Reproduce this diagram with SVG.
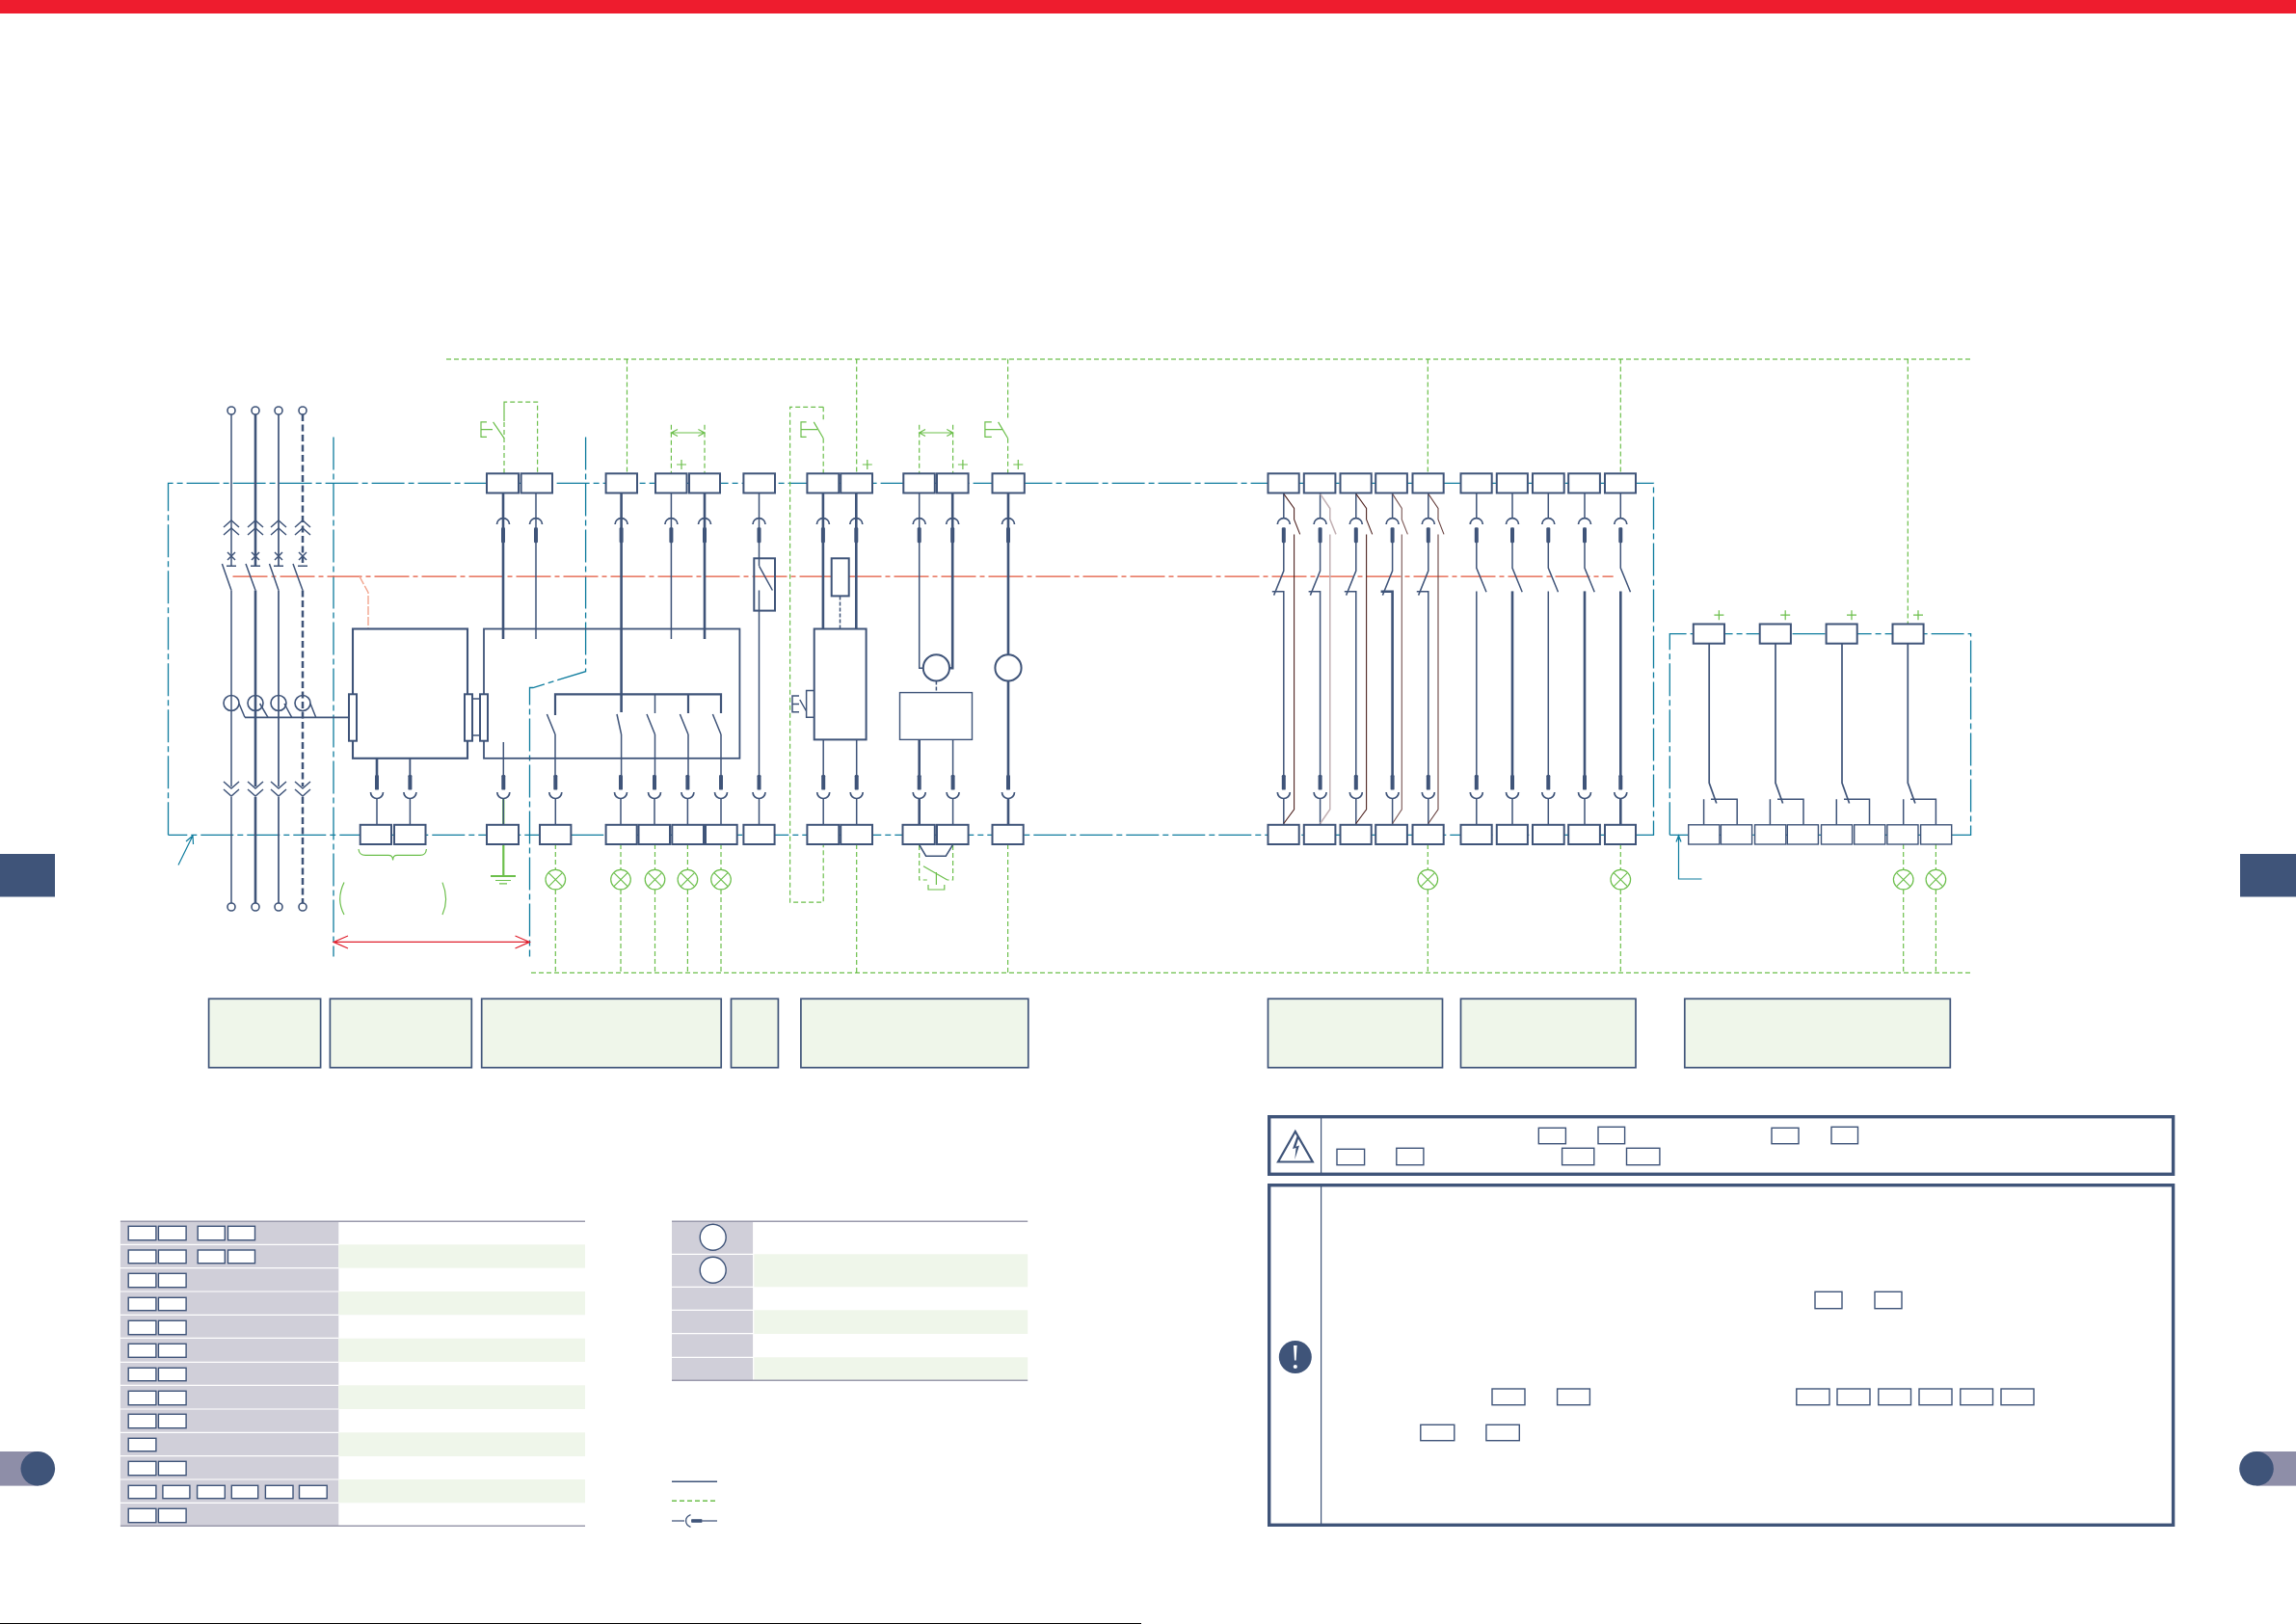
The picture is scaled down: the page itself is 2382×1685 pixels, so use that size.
<svg xmlns="http://www.w3.org/2000/svg" width="2382" height="1685" viewBox="0 0 2382 1685">
<style>
.t{fill:#fff;stroke:#3f5479;stroke-width:2}
.s{fill:#fff;stroke:#3f5479;stroke-width:1.4}
.w{fill:none;stroke:#3f5479;stroke-width:1.5}
.W{fill:none;stroke:#3f5479;stroke-width:2.6}
.d{fill:none;stroke:#3f5479;stroke-width:2.5;stroke-dasharray:7 3.5}
.g{fill:none;stroke:#6cbf4b;stroke-width:1.2;stroke-dasharray:5 3}
.gs{fill:none;stroke:#6cbf4b;stroke-width:1.2}
.e{fill:none;stroke:#0e7c9e;stroke-width:1.3;stroke-dasharray:34 4 6 4}
.es{fill:none;stroke:#0e7c9e;stroke-width:1.2}
.r{fill:none;stroke:#e4553a;stroke-width:1.3;stroke-dasharray:36 4 5 4}
.b{fill:none;stroke:#4f2320;stroke-width:1.1}
.rb{fill:none;stroke:#e0202e;stroke-width:1.2}
.l{fill:#fff;stroke:#6cbf4b;stroke-width:1.2}
.cap{fill:#eff6ea;stroke:#3f5479;stroke-width:1.7}
.gray{fill:#d0cfd9}
.gr{fill:#eff6ea}
.navy{fill:#3f5479}
.pill{fill:#8e8ea8}
.rule{stroke:#9a9aac;stroke-width:1.5;fill:none}
.frame{fill:none;stroke:#3f5479;stroke-width:3.4}
</style>
<defs>
<g id="cu"><path d="M-6.5 6.5A6.5 6.5 0 0 1 6.5 6.5" fill="none" stroke="#3f5479" stroke-width="1.7"/><rect x="-2" y="9.7" width="4" height="16" rx="1.2" fill="#3f5479"/></g>
<g id="cl"><path d="M-6.5 18A6.5 6.5 0 0 0 6.5 18" fill="none" stroke="#3f5479" stroke-width="1.7"/><rect x="-2" y="0" width="4" height="15.6" rx="1.2" fill="#3f5479"/></g>
<g id="lamp"><circle r="10.3" class="l"/><path d="M-7.3 -7.3L7.3 7.3M7.3 -7.3L-7.3 7.3" class="gs"/></g>
<path id="plus" d="M-5 0H5M0 -5V5" class="gs"/>
<g id="pole-top"><path d="M-8 547L0 540L8 547M-8 555L0 548L8 555M-4 573L4 581M4 573L-4 581M-5 587.3H5" fill="none" stroke="#3f5479" stroke-width="1.5"/></g>
<g id="pole-bot"><path d="M-8 811L0 818L8 811M-8 819L0 826L8 819" fill="none" stroke="#3f5479" stroke-width="1.5"/></g>
</defs>

<rect id="top-band" x="0" y="0" width="2382" height="14" fill="#ee1c2e"/>

<g id="connectors">
<path class="e" d="M174.5 866.3V501.4H1715.5V866.3H174.5"/>
<path class="e" d="M1732.3 866.3V657.6H2044.6V866.3H1732.3"/>
<path class="e" d="M346 453.4V992.6"/>
<path class="e" d="M607.6 453.4V696.7L553 713.5H549.5V992.6"/>
<path class="r" d="M241.5 598.2H1673.7"/>
<path d="M373 598.2L382 614.6V651.7" fill="none" stroke="#f2a68f" stroke-width="1.4" stroke-dasharray="9 2"/>
<path class="es" d="M185 897.5L200 867M193 873L200 867L200.5 876"/>
<path class="es" d="M1765.5 912H1741.5V867M1739 873.5L1741.5 867L1744 873.5"/>

<path class="g" d="M463 372.6H2045"/>
<path class="g" d="M551 1009.4H2045"/>
<path class="g" d="M650.5 372.6V491M888.7 372.6V491M1045.6 372.6V435.8M1045.6 454.7V491M1481.3 372.6V491M1681.3 372.6V491M1979.3 372.6V647"/>
<path class="g" d="M696.4 440.8V491M731 440.8V491M953.7 440.8V491M988.6 440.8V491"/>
<path class="g" d="M523 491V417.2H557.6V491M523 417.2V437"/>
<path class="g" d="M854.2 454.7V491M854.2 422.3H819.6V936.2H854.2V877M854.2 422.3V437"/>
<path class="g" d="M576.3 876V902M576.3 923V1009M644 876V902M644 923V1009M679.5 876V902M679.5 923V1009M713.4 876V902M713.4 923V1009M748 876V902M748 923V1009"/>
<path class="g" d="M888.7 876V1009M1045.6 876V1009M1481.3 876V902M1481.3 923V1009M1681.3 876V902M1681.3 923V1009M1974.7 876V902M1974.7 923V1009M2008.4 876V902M2008.4 923V1009"/>
<path class="g" d="M953.7 877V913H961.8M988.6 877V913H982.8"/>
<path class="gs" d="M958 898.7L982.8 913M971.4 905V918M963 918V923H979.8V918"/>
<path class="gs" d="M522.3 829V909" style="stroke-width:2.2"/>
<path class="gs" d="M509 909H535" style="stroke-width:2"/>
<path class="gs" d="M514 913.5H530M518 916.8H526"/>
<path class="gs" d="M372 881C372.5 886 375 887.4 379 887.4H403C406 887.4 407.6 889 407.6 892.4C407.6 889 409 887.4 412 887.4H436C440 887.4 442 886 442.4 881" />
<path class="gs" d="M357 915.6C351 928 351 938 357 949M459 915.6C464 928 464 938 459 949"/>
<path class="rb" d="M346 977.4H549.5M361 971L346 977.4L361 984M534.5 971L549.5 977.4L534.5 984"/>
<path class="gs" d="M696.4 449H731M703 445.5L696.4 449L703 452.5M724.4 445.5L731 449L724.4 452.5M953.7 449H988.6M960 445.5L953.7 449L960 452.5M982.3 445.5L988.6 449L982.3 452.5"/>

<path class="gs" d="M505 437.9H499V453.4H505M499 445.6H505M505 445.6H511M511.6 437.9L523 454.7"/>
<path class="gs" d="M836.6 437.9H831V453.4H836.6M831 445.6H836.6M836.6 445.6H848M844.3 437.9L854.2 454.7"/>
<path class="gs" d="M1028.8 437.9H1021.9V453.4H1028.8M1021.9 445.6H1028.8M1028.8 445.6H1040M1035.6 437.9L1045.6 454.7"/>
<path class="w" d="M829 722H822V738.8H829M822 730.4H829M829.8 726L836.6 738M844 716.5H836.6V744.3H844"/>

<path class="w" d="M240 430V587M240 612.5V816M240 827V937"/><path class="W" d="M265 430V587M265 612.5V816M265 827V937"/>
<path style="fill:none;stroke:#3f5479;stroke-width:1.7" d="M289 430V587M289 612.5V816M289 827V937"/><path class="d" d="M314 430V587M314 612.5V816M314 827V937"/>
<path class="w" d="M230.4 585L240 612.5M255 585L265 612.5M279.5 585L289 612.5M304 585L314 612.5"/>
<path class="w" d="M248 730L254 744.3M269.6 730L278 744.3M295 730L302.7 744.3M322 730L327.7 744.3"/>
<path style="fill:none;stroke:#3f5479;stroke-width:1.8" d="M254 744.3H362"/>

<path class="W" d="M522 511.5V663M644.6 511.5V739M731 511.5V663"/>
<path class="w" d="M556 511.5V663M696.4 511.5V663M787.5 511.5V587.3M787.5 612.5V804"/>
<path class="W" d="M576 742V720.3H748V740M714 720.3V740" style="stroke-width:2.2"/>
<path class="w" d="M679.5 720.3V740"/>
<path class="w" d="M567.4 741L576 762M640 741L644.6 762M671 741L679.5 762M705.4 741L714 762M739.4 741L748 762M787.6 587.3L801.4 612.5"/>
<path class="w" d="M576 762V804M644.6 762V804M679.5 762V804M714 762V804M748 762V804"/>
<path class="w" d="M522.3 770V804"/>
<path class="w" d="M391 787V804M425.4 787V804M391 829V856M425.4 829V856M522.3 829V856M576.3 829V856M644 829V856M679 829V856M713.4 829V856M748 829V856M787.5 829V856"/>
<path class="W" d="M853.9 511.5V652.5M888.3 511.5V652.5M953.7 767.4V804M1046 511.5V679M1046 706.5V804M953.7 829V856M1046 829V856" />
<path class="w" d="M854.2 767.4V804M888.7 767.4V804M854.2 829V856M888.7 829V856M988.6 767.4V804M988.6 829V856"/>
<path class="w" d="M953.7 511.5V693.3H958"/><path class="W" d="M988.2 511.5V693.3H985"/>
<path class="w" d="M871.5 618.4V652.5M971.4 706.4V718.6" stroke-dasharray="4 2"/>
<path class="w" d="M954 877L960.6 888.2H981.3L988.2 877"/>

<path class="w" d="M1331.8 511.5V537M1331.8 563V592.3L1321.6 617.6M1319.8 613.8H1331.8V804M1331.8 829V856"/>
<path class="w" d="M1369.6 511.5V537M1369.6 563V592.3L1359.4 617.6M1357.6 613.8H1369.6V804M1369.6 829V856"/>
<path class="w" d="M1406.8 511.5V537M1406.8 563V592.3L1396.6 617.6M1394.8 613.8H1406.8V804M1406.8 829V856"/>
<path class="w" d="M1444.6 511.5V537M1444.6 563V592.3L1434.4 617.6M1444.6 829V856"/><path class="W" d="M1432.6 613.8H1444.6V804"/>
<path class="w" d="M1481.8 511.5V537M1481.8 563V592.3L1471.6 617.6M1469.8 613.8H1481.8V804M1481.8 829V856"/>
<path class="b" d="M1331.8 512.4L1342.6 527.5V538.9L1348.7 554.4M1342.6 554.4V839.8L1331.8 854.5"/>
<path class="b" style="stroke:#c3b1b4;stroke-width:1.5" d="M1369.6 512.4L1379.8 527.5V538.9L1386 554.4M1379.8 554.4V839.8L1369.6 854.5"/>
<path class="b" d="M1406.8 512.4L1417.6 527.5V538.9L1423.7 554.4M1417.6 554.4V839.8L1406.8 854.5"/>
<path class="b" style="stroke:#7a5553" d="M1444.6 512.4L1454.3 527.5V538.9L1460.4 554.4M1454.3 554.4V839.8L1444.6 854.5"/>
<path class="b" style="stroke:#6a4442" d="M1481.8 512.4L1492 527.5V538.9L1498 554.4M1492 554.4V839.8L1481.8 854.5"/>
<path class="w" d="M1531.8 511.5V537M1531.8 563V589.4L1542 614.2M1531.8 613.4V804M1531.8 829V856"/>
<path class="w" d="M1569 511.5V537M1569 563V589.4L1579.2 614.2M1569 829V856"/><path class="W" d="M1569 613.4V804"/>
<path class="w" d="M1606.3 511.5V537M1606.3 563V589.4L1616.5 614.2M1606.3 613.4V804M1606.3 829V856"/>
<path class="w" d="M1644 511.5V537M1644 563V589.4L1654.2 614.2M1644 829V856"/><path class="W" d="M1644 613.4V804"/>
<path class="w" d="M1681.3 511.5V537M1681.3 563V589.4L1691.5 614.2"/><path class="W" d="M1681.3 613.4V804M1681.3 829V856"/>

<path style="fill:none;stroke:#3f5479;stroke-width:1.7" d="M1773.2 667.7V812.4L1780.8 833.5M1842 667.7V812.4L1849.6 833.5M1911 667.7V812.4L1918.6 833.5M1979.3 667.7V812.4L1986.9 833.5"/>
<path class="w" d="M1767.6 829.3V856M1775 829.3H1802.2V856M1836.4 829.3V856M1844 829.3H1871V856M1905.3 829.3V856M1913 829.3H1939.5V856M1974.7 829.3V856M1982 829.3H2008.4V856"/>
</g>

<g id="couplers">
<use href="#cu" x="522" y="537.6"/><use href="#cu" x="556" y="537.6"/><use href="#cu" x="644.6" y="537.6"/><use href="#cu" x="696.4" y="537.6"/><use href="#cu" x="731" y="537.6"/><use href="#cu" x="787.5" y="537.6"/><use href="#cu" x="853.9" y="537.6"/><use href="#cu" x="888.3" y="537.6"/><use href="#cu" x="953.7" y="537.6"/><use href="#cu" x="988.2" y="537.6"/><use href="#cu" x="1046" y="537.6"/>
<use href="#cu" x="1331.8" y="537.6"/><use href="#cu" x="1369.6" y="537.6"/><use href="#cu" x="1406.8" y="537.6"/><use href="#cu" x="1444.6" y="537.6"/><use href="#cu" x="1481.8" y="537.6"/><use href="#cu" x="1531.8" y="537.6"/><use href="#cu" x="1569" y="537.6"/><use href="#cu" x="1606.3" y="537.6"/><use href="#cu" x="1644" y="537.6"/><use href="#cu" x="1681.3" y="537.6"/>
<use href="#cl" x="391" y="804"/><use href="#cl" x="425.4" y="804"/><use href="#cl" x="522.3" y="804"/><use href="#cl" x="576.3" y="804"/><use href="#cl" x="644" y="804"/><use href="#cl" x="679" y="804"/><use href="#cl" x="713.4" y="804"/><use href="#cl" x="748" y="804"/><use href="#cl" x="787.5" y="804"/><use href="#cl" x="854.2" y="804"/><use href="#cl" x="888.7" y="804"/><use href="#cl" x="953.7" y="804"/><use href="#cl" x="988.6" y="804"/><use href="#cl" x="1046" y="804"/>
<use href="#cl" x="1331.8" y="804"/><use href="#cl" x="1369.6" y="804"/><use href="#cl" x="1406.8" y="804"/><use href="#cl" x="1444.6" y="804"/><use href="#cl" x="1481.8" y="804"/><use href="#cl" x="1531.8" y="804"/><use href="#cl" x="1569" y="804"/><use href="#cl" x="1606.3" y="804"/><use href="#cl" x="1644" y="804"/><use href="#cl" x="1681.3" y="804"/>
</g>

<g id="main-poles">
<use href="#pole-top" x="240"/><use href="#pole-top" x="265"/><use href="#pole-top" x="289"/><use href="#pole-top" x="314"/>
<use href="#pole-bot" x="240"/><use href="#pole-bot" x="265"/><use href="#pole-bot" x="289"/><use href="#pole-bot" x="314"/>
<g fill="#fff" stroke="#3f5479" stroke-width="1.6"><circle cx="240" cy="426" r="4"/><circle cx="265" cy="426" r="4"/><circle cx="289" cy="426" r="4"/><circle cx="314" cy="426" r="4"/><circle cx="240" cy="941" r="4"/><circle cx="265" cy="941" r="4"/><circle cx="289" cy="941" r="4"/><circle cx="314" cy="941" r="4"/></g>
<g fill="none" stroke="#3f5479" stroke-width="1.6"><circle cx="240" cy="729.5" r="8"/><circle cx="265" cy="729.5" r="8"/><circle cx="289" cy="729.5" r="8"/><circle cx="314" cy="729.5" r="8"/></g>
</g>

<g id="breaker-unit"><rect x="366" y="652.5" width="119" height="134.3" fill="none" stroke="#3f5479" stroke-width="2.1"/></g>
<g id="breaker-wires"><path class="W" d="M391 786.8V804"/><path class="w" d="M425.4 786.8V804"/></g>
<g id="control-unit"><rect x="502" y="652.5" width="265.4" height="134.3" fill="none" stroke="#3f5479" stroke-width="1.8"/></g>
<g id="interlock">
<path class="w" d="M490 725H498M490 763H498"/>
<rect class="t" x="362" y="720.3" width="8" height="48.4"/>
<rect class="t" x="482" y="720.3" width="8" height="48.4"/>
<rect class="t" x="498" y="720.3" width="8" height="48.4"/>
</g>
<g id="fuse-a"><rect class="t" x="782.3" y="579.3" width="21.7" height="54.3" style="fill:none"/></g>
<g id="fuse-b"><rect class="t" x="862.7" y="579.3" width="18" height="39.1"/></g>
<g id="coil-box"><rect x="844.7" y="652.5" width="53.9" height="114.9" fill="#fff" stroke="#3f5479" stroke-width="2"/></g>
<g id="motor-a"><circle class="t" cx="971.4" cy="692.9" r="13.6"/></g>
<g id="motor-box"><rect class="s" x="933.5" y="718.6" width="75" height="48.8"/></g>
<g id="motor-b"><circle class="t" cx="1046" cy="692.9" r="13.6"/></g>

<g id="terminals-top">
<g id="tt1"><rect class="t" x="505" y="491.3" width="33" height="20.2"/></g>
<g id="tt2"><rect class="t" x="540.6" y="491.3" width="32.4" height="20.2"/></g>
<g id="tt3"><rect class="t" x="628.6" y="491.3" width="32.4" height="20.2"/></g>
<g id="tt4"><rect class="t" x="680" y="491.3" width="32.5" height="20.2"/></g>
<g id="tt5"><rect class="t" x="715" y="491.3" width="32" height="20.2"/></g>
<g id="tt6"><rect class="t" x="771.4" y="491.3" width="32.6" height="20.2"/></g>
<g id="tt7"><rect class="t" x="837.4" y="491.3" width="32.9" height="20.2"/></g>
<g id="tt8"><rect class="t" x="872.2" y="491.3" width="32.8" height="20.2"/></g>
<g id="tt9"><rect class="t" x="937.3" y="491.3" width="32.5" height="20.2"/></g>
<g id="tt10"><rect class="t" x="972" y="491.3" width="32.6" height="20.2"/></g>
<g id="tt11"><rect class="t" x="1029.5" y="491.3" width="33.3" height="20.2"/></g>
<g id="tt12"><rect class="t" x="1315.5" y="491.3" width="32.2" height="20.2"/></g>
<g id="tt13"><rect class="t" x="1352.8" y="491.3" width="32.6" height="20.2"/></g>
<g id="tt14"><rect class="t" x="1390.5" y="491.3" width="32.2" height="20.2"/></g>
<g id="tt15"><rect class="t" x="1427.2" y="491.3" width="32.7" height="20.2"/></g>
<g id="tt16"><rect class="t" x="1465.5" y="491.3" width="32.2" height="20.2"/></g>
<g id="tt17"><rect class="t" x="1515.5" y="491.3" width="32.2" height="20.2"/></g>
<g id="tt18"><rect class="t" x="1552.8" y="491.3" width="32.1" height="20.2"/></g>
<g id="tt19"><rect class="t" x="1590" y="491.3" width="32.7" height="20.2"/></g>
<g id="tt20"><rect class="t" x="1627.2" y="491.3" width="32.7" height="20.2"/></g>
<g id="tt21"><rect class="t" x="1665" y="491.3" width="32" height="20.2"/></g>
<g id="tt22"><rect class="t" x="1756.8" y="647.5" width="32.2" height="20.2"/></g>
<g id="tt23"><rect class="t" x="1825.7" y="647.5" width="32.2" height="20.2"/></g>
<g id="tt24"><rect class="t" x="1894.6" y="647.5" width="32.1" height="20.2"/></g>
<g id="tt25"><rect class="t" x="1963.5" y="647.5" width="32.1" height="20.2"/></g>
</g>

<g id="terminals-bottom">
<g id="tb1"><rect class="t" x="373.7" y="855.8" width="32.3" height="20.2"/></g>
<g id="tb2"><rect class="t" x="409" y="855.8" width="32.5" height="20.2"/></g>
<g id="tb3"><rect class="t" x="505" y="855.8" width="33" height="20.2"/></g>
<g id="tb4"><rect class="t" x="560" y="855.8" width="32.4" height="20.2"/></g>
<g id="tb5"><rect class="t" x="628.6" y="855.8" width="32.1" height="20.2"/></g>
<g id="tb6"><rect class="t" x="662.5" y="855.8" width="32.5" height="20.2"/></g>
<g id="tb7"><rect class="t" x="697.3" y="855.8" width="32.7" height="20.2"/></g>
<g id="tb8"><rect class="t" x="732" y="855.8" width="32.7" height="20.2"/></g>
<g id="tb9"><rect class="t" x="771.4" y="855.8" width="32.2" height="20.2"/></g>
<g id="tb10"><rect class="t" x="837.4" y="855.8" width="32.9" height="20.2"/></g>
<g id="tb11"><rect class="t" x="872.2" y="855.8" width="32.8" height="20.2"/></g>
<g id="tb12"><rect class="t" x="936.5" y="855.8" width="33.3" height="20.2"/></g>
<g id="tb13"><rect class="t" x="972" y="855.8" width="32.6" height="20.2"/></g>
<g id="tb14"><rect class="t" x="1029.5" y="855.8" width="32.2" height="20.2"/></g>
<g id="tb15"><rect class="t" x="1315.5" y="855.8" width="32.2" height="20.2"/></g>
<g id="tb16"><rect class="t" x="1352.8" y="855.8" width="32.6" height="20.2"/></g>
<g id="tb17"><rect class="t" x="1390.5" y="855.8" width="32.2" height="20.2"/></g>
<g id="tb18"><rect class="t" x="1427.2" y="855.8" width="32.7" height="20.2"/></g>
<g id="tb19"><rect class="t" x="1465.5" y="855.8" width="32.2" height="20.2"/></g>
<g id="tb20"><rect class="t" x="1515.5" y="855.8" width="32.2" height="20.2"/></g>
<g id="tb21"><rect class="t" x="1552.8" y="855.8" width="32.1" height="20.2"/></g>
<g id="tb22"><rect class="t" x="1590" y="855.8" width="32.7" height="20.2"/></g>
<g id="tb23"><rect class="t" x="1627.2" y="855.8" width="32.7" height="20.2"/></g>
<g id="tb24"><rect class="t" x="1665" y="855.8" width="32" height="20.2"/></g>
<g id="tb25"><rect class="s" x="1751.7" y="855.8" width="32.2" height="20.2"/></g>
<g id="tb26"><rect class="s" x="1785.4" y="855.8" width="32.2" height="20.2"/></g>
<g id="tb27"><rect class="s" x="1820.6" y="855.8" width="32.2" height="20.2"/></g>
<g id="tb28"><rect class="s" x="1854.3" y="855.8" width="32.1" height="20.2"/></g>
<g id="tb29"><rect class="s" x="1889.5" y="855.8" width="32.1" height="20.2"/></g>
<g id="tb30"><rect class="s" x="1923.7" y="855.8" width="32.1" height="20.2"/></g>
<g id="tb31"><rect class="s" x="1957.9" y="855.8" width="32.1" height="20.2"/></g>
<g id="tb32"><rect class="s" x="1992.6" y="855.8" width="32.1" height="20.2"/></g>
</g>

<g id="lamps">
<use href="#lamp" x="576.3" y="912.6"/><use href="#lamp" x="644" y="912.6"/><use href="#lamp" x="679.5" y="912.6"/><use href="#lamp" x="713.4" y="912.6"/><use href="#lamp" x="748" y="912.6"/><use href="#lamp" x="1481.3" y="912.6"/><use href="#lamp" x="1681.3" y="912.6"/><use href="#lamp" x="1974.7" y="912.6"/><use href="#lamp" x="2008.4" y="912.6"/>
</g>
<g id="plus-signs">
<use href="#plus" x="707" y="482"/><use href="#plus" x="899.8" y="482"/><use href="#plus" x="998.9" y="482"/><use href="#plus" x="1056.3" y="482"/><use href="#plus" x="1783.4" y="638.2"/><use href="#plus" x="1852.2" y="638.2"/><use href="#plus" x="1921" y="638.2"/><use href="#plus" x="1990" y="638.2"/>
</g>

<g id="captions">
<rect class="cap" x="216.6" y="1036.3" width="116" height="71.4"/>
<rect class="cap" x="342.4" y="1036.3" width="146.9" height="71.4"/>
<rect class="cap" x="499.7" y="1036.3" width="248.5" height="71.4"/>
<rect class="cap" x="758.5" y="1036.3" width="48.9" height="71.4"/>
<rect class="cap" x="830.9" y="1036.3" width="235.9" height="71.4"/>
<rect class="cap" x="1315.5" y="1036.3" width="181" height="71.4"/>
<rect class="cap" x="1515.5" y="1036.3" width="181.5" height="71.4"/>
<rect class="cap" x="1747.8" y="1036.3" width="275.5" height="71.4"/>
</g>

<g id="table-left">
<rect class="gray" x="124.9" y="1267.3" width="226.4" height="316"/>
<rect class="gr" x="351.3" y="1291.3" width="255.7" height="24.3"/>
<rect class="gr" x="351.3" y="1340" width="255.7" height="24.3"/>
<rect class="gr" x="351.3" y="1388.7" width="255.7" height="24.3"/>
<rect class="gr" x="351.3" y="1437.3" width="255.7" height="24.7"/>
<rect class="gr" x="351.3" y="1486.3" width="255.7" height="24.7"/>
<rect class="gr" x="351.3" y="1535" width="255.7" height="24.3"/>
<path d="M124.9 1291.3H351.3M124.9 1315.7H351.3M124.9 1340H351.3M124.9 1364.3H351.3M124.9 1388.3H351.3M124.9 1413.3H351.3M124.9 1437.3H351.3M124.9 1462H351.3M124.9 1486.3H351.3M124.9 1510.7H351.3M124.9 1535H351.3M124.9 1559.3H351.3" stroke="#fff" stroke-width="1.2"/>
<path class="rule" d="M124.9 1267.3H607M124.9 1583.3H607"/>
<rect class="s" x="133.2" y="1272.3" width="28.7" height="14.4"/><rect class="s" x="164.4" y="1272.3" width="28.7" height="14.4"/><rect class="s" x="205.2" y="1272.3" width="28.1" height="14.4"/><rect class="s" x="236.5" y="1272.3" width="28" height="14.4"/>
<rect class="s" x="133.2" y="1297" width="28.7" height="13.7"/><rect class="s" x="164.4" y="1297" width="28.7" height="13.7"/><rect class="s" x="205.2" y="1297" width="28.1" height="13.7"/><rect class="s" x="236.5" y="1297" width="28" height="13.7"/>
<rect class="s" x="133.2" y="1321.3" width="28.7" height="14.4"/><rect class="s" x="164.4" y="1321.3" width="28.7" height="14.4"/>
<rect class="s" x="133.2" y="1346.3" width="28.7" height="13.4"/><rect class="s" x="164.4" y="1346.3" width="28.7" height="13.4"/>
<rect class="s" x="133.2" y="1370.3" width="28.7" height="14.4"/><rect class="s" x="164.4" y="1370.3" width="28.7" height="14.4"/>
<rect class="s" x="133.2" y="1394.3" width="28.7" height="14"/><rect class="s" x="164.4" y="1394.3" width="28.7" height="14"/>
<rect class="s" x="133.2" y="1419.3" width="28.7" height="13.4"/><rect class="s" x="164.4" y="1419.3" width="28.7" height="13.4"/>
<rect class="s" x="133.2" y="1443.3" width="28.7" height="14.4"/><rect class="s" x="164.4" y="1443.3" width="28.7" height="14.4"/>
<rect class="s" x="133.2" y="1467.3" width="28.7" height="14.4"/><rect class="s" x="164.4" y="1467.3" width="28.7" height="14.4"/>
<rect class="s" x="133.2" y="1492.3" width="28.7" height="13.4"/>
<rect class="s" x="133.2" y="1516.3" width="28.7" height="14.4"/><rect class="s" x="164.4" y="1516.3" width="28.7" height="14.4"/>
<rect class="s" x="133.2" y="1541.3" width="28.7" height="13.4"/><rect class="s" x="168.9" y="1541.3" width="28" height="13.4"/><rect class="s" x="204.6" y="1541.3" width="28.7" height="13.4"/><rect class="s" x="240.3" y="1541.3" width="27.4" height="13.4"/><rect class="s" x="275.4" y="1541.3" width="28.6" height="13.4"/><rect class="s" x="310.5" y="1541.3" width="28.7" height="13.4"/>
<rect class="s" x="133.2" y="1565.3" width="28.7" height="14.4"/><rect class="s" x="164.4" y="1565.3" width="28.7" height="14.4"/>
</g>

<g id="table-right">
<rect class="gray" x="697" y="1267.3" width="84.7" height="165"/>
<rect class="gr" x="781.7" y="1301.3" width="284.5" height="34"/>
<rect class="gr" x="781.7" y="1359.3" width="284.5" height="24.7"/>
<rect class="gr" x="781.7" y="1408.3" width="284.5" height="24"/>
<path d="M697 1301.3H781.7M697 1335.3H781.7M697 1359.3H781.7M697 1383.7H781.7M697 1408.3H781.7M781.7 1267.3V1432.3" stroke="#fff" stroke-width="1.2" fill="none"/>
<path class="rule" d="M697 1267.3H1066.2M697 1432.3H1066.2"/>
<circle class="s" cx="739.7" cy="1283.7" r="13.5"/>
<circle class="s" cx="739.7" cy="1317.7" r="13.5"/>
</g>

<g id="legend">
<path d="M697 1537.3H744" stroke="#3f5479" stroke-width="1.4"/>
<path class="g" d="M697 1557.3H744" style="stroke-width:1.4"/>
<path d="M697 1578H744" stroke="#8793ab" stroke-width="2"/>
<path d="M710 1578H717" stroke="#fff" stroke-width="2.5"/>
<path d="M716.5 1571.7C710 1574 710 1582 716.5 1584.3" fill="none" stroke="#3f5479" stroke-width="1.3"/>
<rect x="717.3" y="1576.2" width="11" height="3.6" class="navy"/>
</g>

<g id="warning-box">
<rect class="frame" x="1316.7" y="1158.7" width="937.9" height="59.6"/>
<path d="M1370.6 1158V1219" stroke="#3f5479" stroke-width="1.2"/>
<path d="M1343.8 1174L1326 1205.5H1361.8Z" fill="#fff" stroke="#3f5479" stroke-width="2.2"/>
<path d="M1345.5 1179L1341 1192L1344.6 1191L1343.3 1203L1348 1188.5L1344.4 1189.8L1347.5 1180Z" class="navy"/>
<rect class="s" x="1596.3" y="1170.3" width="28.1" height="16.4"/><rect class="s" x="1658" y="1169.3" width="27.6" height="17.4"/><rect class="s" x="1838" y="1170.3" width="28" height="16.4"/><rect class="s" x="1900" y="1169.3" width="27.5" height="17.4"/>
<rect class="s" x="1387" y="1192.3" width="28.6" height="16.4"/><rect class="s" x="1448.8" y="1191.3" width="28.1" height="17.4"/><rect class="s" x="1620.6" y="1191.3" width="33.2" height="17.4"/><rect class="s" x="1687.5" y="1191.3" width="34.4" height="17.4"/>
</g>

<g id="notice-box">
<rect class="frame" x="1316.7" y="1229.7" width="937.9" height="352.6"/>
<path d="M1370.6 1229V1583" stroke="#3f5479" stroke-width="1.2"/>
<circle class="navy" cx="1343.8" cy="1408" r="17"/>
<path d="M1342 1396H1345.6L1344.6 1411.5H1343Z" fill="#fff"/>
<circle cx="1343.8" cy="1418" r="2.1" fill="#fff"/>
<rect class="s" x="1883" y="1340.3" width="28" height="17.4"/><rect class="s" x="1945" y="1340.3" width="28" height="17.4"/>
<rect class="s" x="1548" y="1441" width="34" height="16.7"/><rect class="s" x="1615.6" y="1441" width="33.8" height="16.7"/>
<rect class="s" x="1863.8" y="1441" width="34.2" height="16.7"/><rect class="s" x="1906" y="1441" width="34" height="16.7"/><rect class="s" x="1948.8" y="1441" width="33.7" height="16.7"/><rect class="s" x="1991" y="1441" width="34" height="16.7"/><rect class="s" x="2033.8" y="1441" width="33.7" height="16.7"/><rect class="s" x="2076" y="1441" width="34" height="16.7"/>
<rect class="s" x="1473.8" y="1478.3" width="35" height="16.4"/><rect class="s" x="1541.9" y="1478.3" width="34.4" height="16.4"/>
</g>

<g id="page-tabs">
<rect class="navy" x="0" y="886" width="57" height="44.5"/>
<rect class="navy" x="2324" y="886" width="58" height="44.5"/>
<rect class="pill" x="0" y="1506" width="40" height="35.6"/>
<circle class="navy" cx="39.3" cy="1523.8" r="17.8"/>
<rect class="pill" x="2341" y="1506" width="41" height="35.6"/>
<circle class="navy" cx="2341" cy="1523.8" r="17.8"/>
</g>
<rect id="footer-rule" x="0" y="1684" width="1184" height="1" fill="#000"/>
</svg>
